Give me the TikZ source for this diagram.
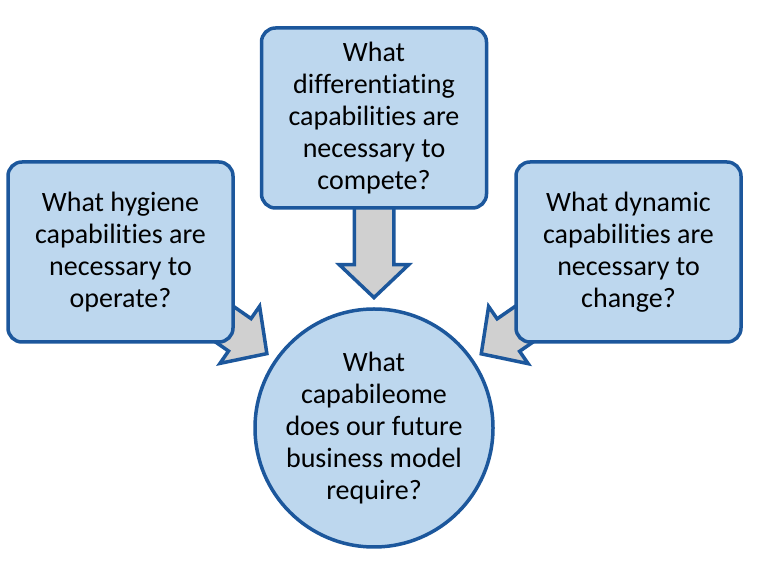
\documentclass[tikz,border=0pt]{standalone}
\usepackage{fontspec}
\setmainfont{Carlito}[Ligatures=NoCommon]
\usetikzlibrary{shapes.arrows,calc,backgrounds}

\definecolor{boxblue}{HTML}{BDD7EE}
\definecolor{edgeblue}{HTML}{1C579C}
\definecolor{arrowgrey}{HTML}{D0D0D0}

\tikzset{
  qbox/.style={draw=edgeblue, line width=3.5pt, fill=boxblue, rounded corners=14pt,
    minimum width=225pt, minimum height=180pt, align=center,
    font=\fontsize{28}{32}\selectfont},
  qcircle/.style={circle, draw=edgeblue, line width=3.5pt, fill=boxblue,
    minimum size=238pt, inner sep=0pt, align=center,
    font=\fontsize{28}{32}\selectfont},
  blockarrow/.style={single arrow, draw=edgeblue, line width=3.5pt, fill=arrowgrey,
    inner xsep=0pt, inner ysep=18pt, single arrow head extend=15pt,
    single arrow tip angle=93, minimum height=150pt}
}

\begin{document}
\begin{tikzpicture}[x=1pt, y=1pt]
  \useasboundingbox (0,0) rectangle (768,570);
  %
  \node[qbox] (hyg) at (120.5,318) {What hygiene\\capabilities are\\necessary to\\operate?};
  \node[qbox] (comp) at (374,452) {What\\differentiating\\capabilities are\\necessary to\\compete?};
  \node[qbox] (dyn) at (628.5,318) {What dynamic\\capabilities are\\necessary to\\change?};
  %
  \node[qcircle] (core) at (374,142) {What\\capabileome\\does our future\\business model\\require?};
  %
  \begin{scope}[on background layer]  % arrows behind the boxes
    \foreach \q in {hyg, comp, dyn}
      \path (\q.center) -- ($(core)!128pt!(\q)$)
        node[blockarrow, sloped, allow upside down, pos=1, anchor=tip] {};
  \end{scope}
\end{tikzpicture}
\end{document}
